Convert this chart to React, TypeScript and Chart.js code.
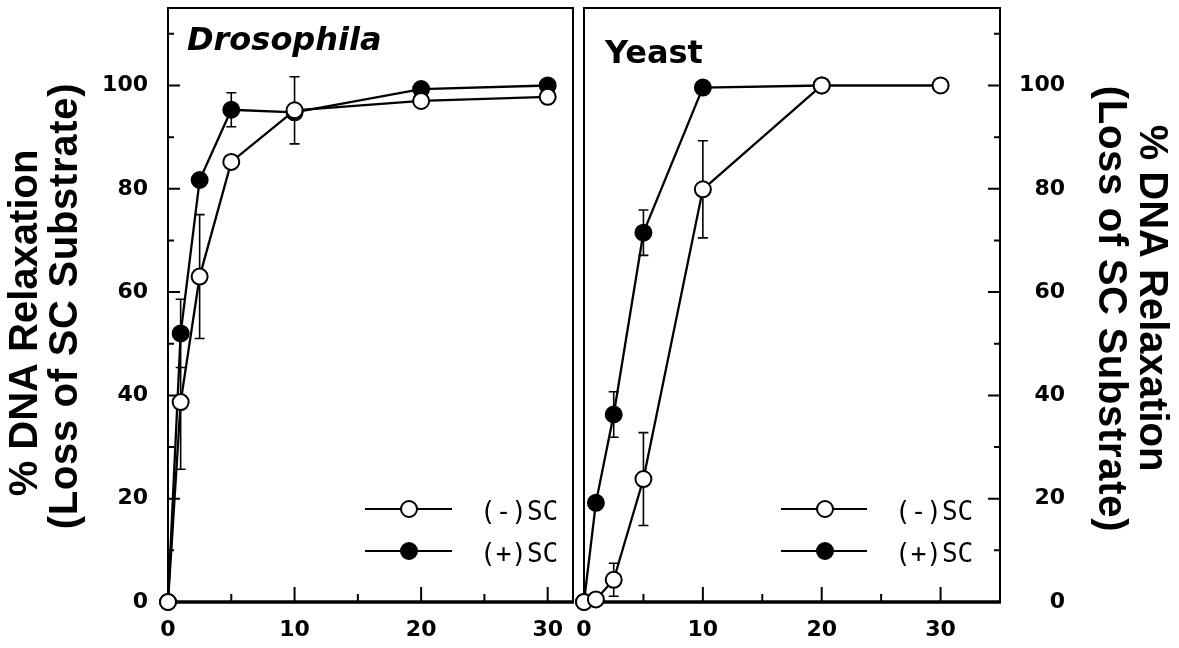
import React, { useEffect, useRef } from "react";
import { Chart, registerables } from "chart.js";

Chart.register(...registerables);

// ---- Data ----
const droTime = [0, 1, 2.5, 5, 10, 20, 30];
const droMinus = [0, 38.7, 63.0, 85.2, 95.2, 97.0, 97.8];
const droMinusErr = [0, 13, 12, 0, 6.5, 0, 0];
const droPlus = [0, 52.0, 81.7, 95.3, 94.8, 99.3, 100];
const droPlusErr = [0, 6.6, 0, 3.3, 0, 0, 0];

const yeastTime = [0, 1, 2.5, 5, 10, 20, 30];
const yeastMinus = [0, 0.5, 4.3, 23.8, 79.9, 100, 100];
const yeastMinusErr = [0, 0, 3.2, 9, 9.4, 0, 0];
const yeastPlusTime = [0, 1, 2.5, 5, 10, 20];
const yeastPlus = [0, 19.2, 36.3, 71.5, 99.6, 100];
const yeastPlusErr = [0, 0, 4.4, 4.4, 0, 0];

const yMajorTicks = [0, 20, 40, 60, 80, 100];
const yMinorTicks = [10, 30, 50, 70, 90, 110];
const xMajorTicks = [0, 10, 20, 30];
const xMinorTicks = [5, 15, 25];

const seriesLabels = ["(-)SC", "(+)SC"];
const panelTitles = ["Drosophila", "Yeast"];
const yTitle = ["% DNA Relaxation", "(Loss of SC Substrate)"];

const W = 1179;
const H = 648;

function pts(xs: number[], ys: number[]) {
  return xs.map((x, i) => ({ x, y: ys[i] }));
}

const panelPlugin = {
  id: "panel",
  beforeDatasetsDraw(chart: any, _args: any, opts: any) {
    const { ctx, chartArea } = chart;
    const { left, right, top, bottom } = chartArea;
    const xs = chart.scales.x;
    const ys = chart.scales.y;
    ctx.save();
    ctx.strokeStyle = "#000";
    // frame
    ctx.lineWidth = 2;
    ctx.beginPath();
    ctx.moveTo(left, bottom);
    ctx.lineTo(left, top);
    ctx.lineTo(right, top);
    ctx.lineTo(right, bottom);
    ctx.stroke();
    ctx.lineWidth = 3.5;
    ctx.beginPath();
    ctx.moveTo(left - 1, bottom);
    ctx.lineTo(right + 1, bottom);
    ctx.stroke();
    // inward ticks
    const edge = opts.ySide === "left" ? left : right;
    const d = opts.ySide === "left" ? 1 : -1;
    ctx.lineWidth = 2;
    ctx.beginPath();
    yMajorTicks.forEach((v) => {
      if (v === 0) return;
      const p = ys.getPixelForValue(v);
      ctx.moveTo(edge, p);
      ctx.lineTo(edge + d * 12, p);
    });
    yMinorTicks.forEach((v) => {
      const p = ys.getPixelForValue(v);
      ctx.moveTo(edge, p);
      ctx.lineTo(edge + d * 6, p);
    });
    xMajorTicks.forEach((v) => {
      if (v === 0) return;
      const p = xs.getPixelForValue(v);
      ctx.moveTo(p, bottom);
      ctx.lineTo(p, bottom - 15);
    });
    xMinorTicks.forEach((v) => {
      const p = xs.getPixelForValue(v);
      ctx.moveTo(p, bottom);
      ctx.lineTo(p, bottom - 8);
    });
    ctx.stroke();
    // error bars
    ctx.lineWidth = 1.6;
    ctx.beginPath();
    chart.data.datasets.forEach((ds: any) => {
      if (!ds.errors) return;
      ds.data.forEach((pt: any, i: number) => {
        const e = ds.errors[i];
        if (!e) return;
        const px = xs.getPixelForValue(pt.x);
        const hi = ys.getPixelForValue(pt.y + e);
        const lo = ys.getPixelForValue(pt.y - e);
        ctx.moveTo(px, hi);
        ctx.lineTo(px, lo);
        ctx.moveTo(px - 5, hi);
        ctx.lineTo(px + 5, hi);
        ctx.moveTo(px - 5, lo);
        ctx.lineTo(px + 5, lo);
      });
    });
    ctx.stroke();
    ctx.restore();
  },
  afterDatasetsDraw(chart: any, _args: any, opts: any) {
    const { ctx, chartArea } = chart;
    const { left, right, top, bottom } = chartArea;
    ctx.save();
    // panel title
    ctx.fillStyle = "#000";
    ctx.font = opts.titleFont;
    ctx.textAlign = "left";
    ctx.textBaseline = "alphabetic";
    ctx.fillText(opts.title, left + opts.titleDx, top + opts.titleDy);
    // legend
    const lg = opts.legend;
    chart.data.datasets.forEach((ds: any, i: number) => {
      const y = bottom + lg.rows[i];
      ctx.strokeStyle = "#000";
      ctx.lineWidth = 2;
      ctx.beginPath();
      ctx.moveTo(right + lg.lineFrom, y);
      ctx.lineTo(right + lg.lineTo, y);
      ctx.stroke();
      ctx.beginPath();
      ctx.arc(right + lg.marker, y, ds.pointRadius, 0, Math.PI * 2);
      ctx.fillStyle = ds.pointBackgroundColor;
      ctx.fill();
      ctx.lineWidth = ds.pointBorderWidth;
      ctx.strokeStyle = ds.pointBorderColor;
      ctx.stroke();
      ctx.fillStyle = "#000";
      ctx.font = "26px 'DejaVu Sans Mono'";
      ctx.textAlign = "left";
      ctx.textBaseline = "middle";
      ctx.fillText(ds.label, right + lg.text, y + 4);
    });
    // y-axis title (two lines, rotated)
    const cy = (top + bottom) / 2;
    const yt = opts.yTitle;
    ctx.font = "bold 40px 'Liberation Sans'";
    ctx.textAlign = "center";
    ctx.textBaseline = "middle";
    ctx.fillStyle = "#000";
    yTitle.forEach((line, i) => {
      const baseX = opts.ySide === "left" ? left : right;
      ctx.save();
      ctx.translate(baseX + yt.dx[i], cy + yt.dy[i]);
      ctx.rotate(opts.ySide === "left" ? -Math.PI / 2 : Math.PI / 2);
      if (i === 1) (ctx as any).letterSpacing = "0.7px";
      ctx.fillText(line, 0, 0);
      ctx.restore();
    });
    ctx.restore();
  },
};

function makeDatasets(tMinus: number[], vMinus: number[], eMinus: number[], tPlus: number[], vPlus: number[], ePlus: number[]) {
  const common = {
    borderColor: "#000",
    borderWidth: 2.3,
    pointRadius: 8,
    pointBorderWidth: 2,
    pointBorderColor: "#000",
    tension: 0,
    clip: false as any,
    showLine: true,
  };
  return [
    { ...common, label: seriesLabels[0], data: pts(tMinus, vMinus), errors: eMinus, pointBackgroundColor: "#fff" },
    { ...common, label: seriesLabels[1], data: pts(tPlus, vPlus), errors: ePlus, pointBackgroundColor: "#000" },
  ];
}

const tickFont = { family: "'DejaVu Sans'", weight: "bold" as const, size: 22 };

function buildConfig(side: "left" | "right") {
  const isLeft = side === "left";
  const datasets = isLeft
    ? makeDatasets(droTime, droMinus, droMinusErr, droTime, droPlus, droPlusErr)
    : makeDatasets(yeastTime, yeastMinus, yeastMinusErr, yeastPlusTime, yeastPlus, yeastPlusErr);
  return {
    type: "line" as const,
    data: { datasets },
    plugins: [panelPlugin],
    options: {
      responsive: false,
      animation: false as const,
      events: [],
      layout: {
        autoPadding: false,
        padding: isLeft ? { top: 8, right: 5, left: 0, bottom: 0 } : { top: 8, right: 114, left: 14, bottom: 0 },
      },
      plugins: {
        legend: { display: false },
        tooltip: { enabled: false },
        panel: {
          ySide: side,
          title: isLeft ? panelTitles[0] : panelTitles[1],
          titleFont: isLeft ? "italic bold 32px 'DejaVu Sans'" : "bold 32px 'DejaVu Sans'",
          titleDx: isLeft ? 19 : 21,
          titleDy: isLeft ? 42 : 55,
          legend: isLeft
            ? { rows: [-93, -51], lineFrom: -208, lineTo: -121, marker: -164, text: -93 }
            : { rows: [-93, -51], lineFrom: -219, lineTo: -133, marker: -175, text: -105 },
          yTitle: isLeft
            ? { dx: [-142, -102], dy: [18, 1] }
            : { dx: [151, 110], dy: [-7, 4] },
        },
      },
      scales: {
        x: {
          type: "linear" as const,
          position: "bottom" as const,
          min: 0,
          max: isLeft ? 32 : 35,
          grid: { display: false, drawTicks: false },
          border: { display: false },
          afterBuildTicks: (s: any) => {
            s.ticks = xMajorTicks.map((v) => ({ value: v }));
          },
          afterFit: (s: any) => {
            s.height = 46;
            s.paddingLeft = 0;
            s.paddingRight = 0;
          },
          ticks: {
            color: "#000",
            font: tickFont,
            padding: 15,
            maxRotation: 0,
            autoSkip: false,
            callback: (v: any) => String(v),
          },
        },
        y: {
          type: "linear" as const,
          position: side,
          min: 0,
          max: 115,
          grid: { display: false, drawTicks: false },
          border: { display: false },
          afterBuildTicks: (s: any) => {
            s.ticks = yMajorTicks.map((v) => ({ value: v }));
          },
          afterFit: (s: any) => {
            s.width = isLeft ? 168 : 65;
            s.paddingTop = 0;
            s.paddingBottom = 0;
          },
          ticks: {
            color: "#000",
            font: tickFont,
            padding: 20,
            crossAlign: isLeft ? ("near" as const) : ("far" as const),
            autoSkip: false,
            callback: (v: any) => String(v),
          },
          title: { display: false },
        },
      },
    },
  };
}

export default function App() {
  const leftRef = useRef<HTMLCanvasElement | null>(null);
  const rightRef = useRef<HTMLCanvasElement | null>(null);

  useEffect(() => {
    const charts: Chart[] = [];
    if (leftRef.current) charts.push(new Chart(leftRef.current, buildConfig("left") as any));
    if (rightRef.current) charts.push(new Chart(rightRef.current, buildConfig("right") as any));
    return () => charts.forEach((c) => c.destroy());
  }, []);

  return (
    <div style={{ position: "absolute", left: 0, top: 0, width: W, height: H, background: "#fff", overflow: "hidden" }}>
      <canvas ref={leftRef} width={578} height={H} style={{ position: "absolute", left: 0, top: 0, width: 578, height: H }} />
      <canvas ref={rightRef} width={609} height={H} style={{ position: "absolute", left: 570, top: 0, width: 609, height: H }} />
    </div>
  );
}
